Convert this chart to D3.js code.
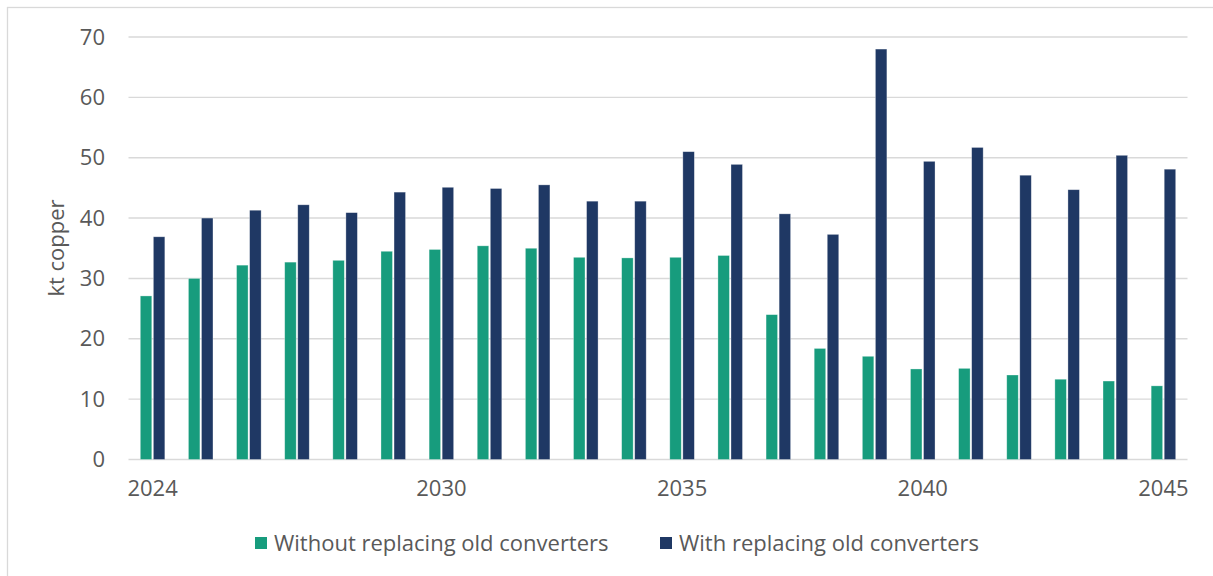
<!DOCTYPE html>
<html>
<head>
<meta charset="utf-8">
<script src="https://cdn.jsdelivr.net/npm/d3@7"></script>
<style>
  html, body { margin: 0; padding: 0; background: #fff; }
  svg { display: block; }
  text { font-family: "Open Sans", "Noto Sans", sans-serif; fill: #595959; }
</style>
</head>
<body>
<svg id="chart" width="1213" height="576"></svg>
<script>
// Annual copper demand (kt) for converter deployment scenarios
const years = [2024, 2025, 2026, 2027, 2028, 2029, 2030, 2031, 2032, 2033, 2034,
               2035, 2036, 2037, 2038, 2039, 2040, 2041, 2042, 2043, 2044, 2045];
const withoutReplacing = [27.1, 30.0, 32.2, 32.7, 33.0, 34.5, 34.8, 35.4, 35.0, 33.5, 33.4,
                          33.5, 33.8, 24.0, 18.4, 17.1, 15.0, 15.1, 14.0, 13.3, 13.0, 12.2];
const withReplacing = [36.9, 40.0, 41.3, 42.2, 40.9, 44.3, 45.1, 44.9, 45.5, 42.8, 42.8,
                       51.0, 48.9, 40.7, 37.3, 68.0, 49.4, 51.7, 47.1, 44.7, 50.4, 48.1];
const seriesNames = ["Without replacing old converters", "With replacing old converters"];
const seriesColors = ["#179c7d", "#1f3864"];
const yTicks = [0, 10, 20, 30, 40, 50, 60, 70];
const xTickLabels = [2024, 2030, 2035, 2040, 2045];
const yTitle = "kt copper";

const svg = d3.select("#chart");
const W = 1213, H = 576;
const plot = { left: 128.5, right: 1187.5, top: 37, bottom: 459.5 };

// outer frame
svg.append("rect")
  .attr("x", 7.5).attr("y", 7.5)
  .attr("width", W + 20).attr("height", H + 20)
  .attr("fill", "none").attr("stroke", "#d9d9d9").attr("stroke-width", 1.3);

const x0 = d3.scaleBand()
  .domain(years)
  .range([plot.left, plot.right])
  .paddingInner(0.49)
  .paddingOuter(0.245);

const x1 = d3.scaleBand()
  .domain([0, 1])
  .range([0, x0.bandwidth()])
  .paddingInner(0.12);

const y = d3.scaleLinear().domain([0, 70]).range([plot.bottom, plot.top]);

// horizontal gridlines
svg.append("g")
  .selectAll("line")
  .data(yTicks)
  .join("line")
  .attr("x1", plot.left).attr("x2", plot.right)
  .attr("y1", d => y(d)).attr("y2", d => y(d))
  .attr("stroke", "#d9d9d9").attr("stroke-width", 1.4);

// y tick labels
const yAxis = d3.axisLeft(y).tickValues(yTicks).tickSize(0).tickPadding(0);
const yg = svg.append("g").attr("transform", `translate(105,0)`).call(yAxis);
yg.select(".domain").remove();
yg.selectAll("text")
  .attr("font-family", "Open Sans, Noto Sans, sans-serif")
  .attr("font-size", 22).attr("fill", "#595959");

// y axis title
svg.append("text")
  .attr("transform", `translate(64,248) rotate(-90)`)
  .attr("text-anchor", "middle")
  .attr("font-size", 22)
  .text(yTitle);

// bars
const rows = years.map((yr, i) => ({ year: yr, values: [withoutReplacing[i], withReplacing[i]] }));
const groups = svg.append("g")
  .selectAll("g")
  .data(rows)
  .join("g")
  .attr("transform", d => `translate(${x0(d.year)},0)`);

groups.selectAll("rect")
  .data(d => d.values.map((v, k) => ({ k, v })))
  .join("rect")
  .attr("x", d => x1(d.k))
  .attr("width", x1.bandwidth())
  .attr("y", d => y(d.v))
  .attr("height", d => y(0) - y(d.v))
  .attr("fill", d => seriesColors[d.k])
  .attr("stroke", "#ffffff")
  .attr("stroke-opacity", 0.45)
  .attr("stroke-width", 0.7);

// x tick labels at category centres
const xg = svg.append("g")
  .attr("transform", `translate(0,${plot.bottom})`)
  .call(d3.axisBottom(x0).tickValues(xTickLabels).tickSize(0).tickPadding(21));
xg.select(".domain").remove();
xg.selectAll("text")
  .attr("font-family", "Open Sans, Noto Sans, sans-serif")
  .attr("font-size", 22).attr("fill", "#595959");

// legend
const legendItems = [
  { name: seriesNames[0], color: seriesColors[0], x: 255 },
  { name: seriesNames[1], color: seriesColors[1], x: 660 }
];
const lg = svg.append("g");
legendItems.forEach(it => {
  lg.append("rect")
    .attr("x", it.x).attr("y", 537)
    .attr("width", 12).attr("height", 12)
    .attr("fill", it.color);
  lg.append("text")
    .attr("x", it.x + 19).attr("y", 543)
    .attr("dy", "0.35em")
    .attr("font-size", 22)
    .text(it.name);
});
</script>
</body>
</html>
